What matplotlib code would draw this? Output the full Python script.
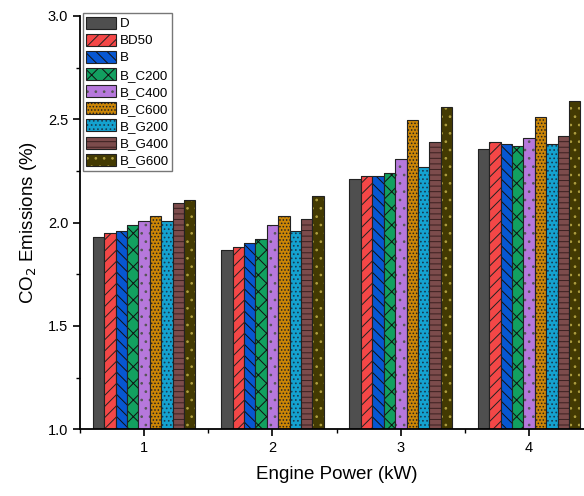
import numpy as np
import matplotlib
matplotlib.use('Agg')
from matplotlib import pyplot as plt
from matplotlib.ticker import MultipleLocator
from matplotlib.legend_handler import HandlerTuple

plt.rcParams['font.family'] = ['Liberation Sans', 'DejaVu Sans']
plt.rcParams['hatch.linewidth'] = 0.7

# engine power (kW)
power = [1, 2, 3, 4]
labels = ['D', 'BD50', 'B', 'B_C200', 'B_C400', 'B_C600', 'B_G200', 'B_G400', 'B_G600']

# CO2 emissions (%) per fuel, one value per power step
D = [1.93, 1.87, 2.21, 2.355]
BD50 = [1.95, 1.88, 2.225, 2.39]
B = [1.96, 1.90, 2.225, 2.38]
B_C200 = [1.99, 1.92, 2.24, 2.37]
B_C400 = [2.01, 1.99, 2.31, 2.41]
B_C600 = [2.03, 2.03, 2.495, 2.51]
B_G200 = [2.01, 1.96, 2.27, 2.38]
B_G400 = [2.095, 2.02, 2.39, 2.42]
B_G600 = [2.11, 2.13, 2.56, 2.59]
series = [D, BD50, B, B_C200, B_C400, B_C600, B_G200, B_G400, B_G600]

colors = ['#4f4f4f', '#f44747', '#0757d2', '#12a060', '#b678dc',
          '#cc8606', '#14a2d0', '#7c4c4c', '#433a02']
hatches = ['', '///', '\\\\\\', 'xx', '..', '.....', '....', '---', '..']
hatchcols = ['#4f4f4f', '#222222', '#111111', '#111111', '#555555',
             '#222222', '#1a3a50', '#3a2020', '#b0a040']

fig = plt.figure(figsize=(5.84, 4.96), dpi=100)
ax = fig.add_axes([80/584, 66.7/496, 513.3/584, 413.3/496])

x = np.array(power, dtype=float)
n = len(series)
w = 0.8/n
handles = []
for i, vals in enumerate(series):
    pos = x - 0.4 + w*(i + 0.5)
    h = np.array(vals) - 1.0
    b1 = ax.bar(pos, h, w, bottom=1.0, color=colors[i], hatch=hatches[i],
                edgecolor=hatchcols[i], linewidth=0)
    b2 = ax.bar(pos, h, w, bottom=1.0, fill=False, edgecolor='#222222',
                linewidth=0.8)
    handles.append((b1, b2))

ax.set_xlim(0.5, 4.5)
ax.set_ylim(1.0, 3.0)
ax.set_xticks(power)
ax.xaxis.set_minor_locator(MultipleLocator(0.5))
ax.yaxis.set_major_locator(MultipleLocator(0.5))
ax.yaxis.set_minor_locator(MultipleLocator(0.25))
ax.tick_params(which='major', direction='out', length=5, width=1.2, labelsize=10.5)
ax.tick_params(which='minor', direction='out', length=3, width=1.0)
for s in ['top', 'right']:
    ax.spines[s].set_visible(False)
for s in ['left', 'bottom']:
    ax.spines[s].set_linewidth(1.3)

ax.set_xlabel('Engine Power (kW)', fontsize=13.5, labelpad=8)
ax.set_ylabel('CO$_2$ Emissions (%)', fontsize=13.5, labelpad=6)

leg = ax.legend(handles, labels, loc='upper left',
                bbox_to_anchor=(0.006, 1.0065), borderaxespad=0,
                fontsize=9.6, handlelength=2.25, handleheight=1.0,
                labelspacing=0.27, handletextpad=0.25, borderpad=0.25,
                fancybox=False, framealpha=1, edgecolor='#777777',
                handler_map={tuple: HandlerTuple(ndivide=1, pad=0)})
leg.get_frame().set_linewidth(1.0)

fig.savefig('out.png', dpi=100)
